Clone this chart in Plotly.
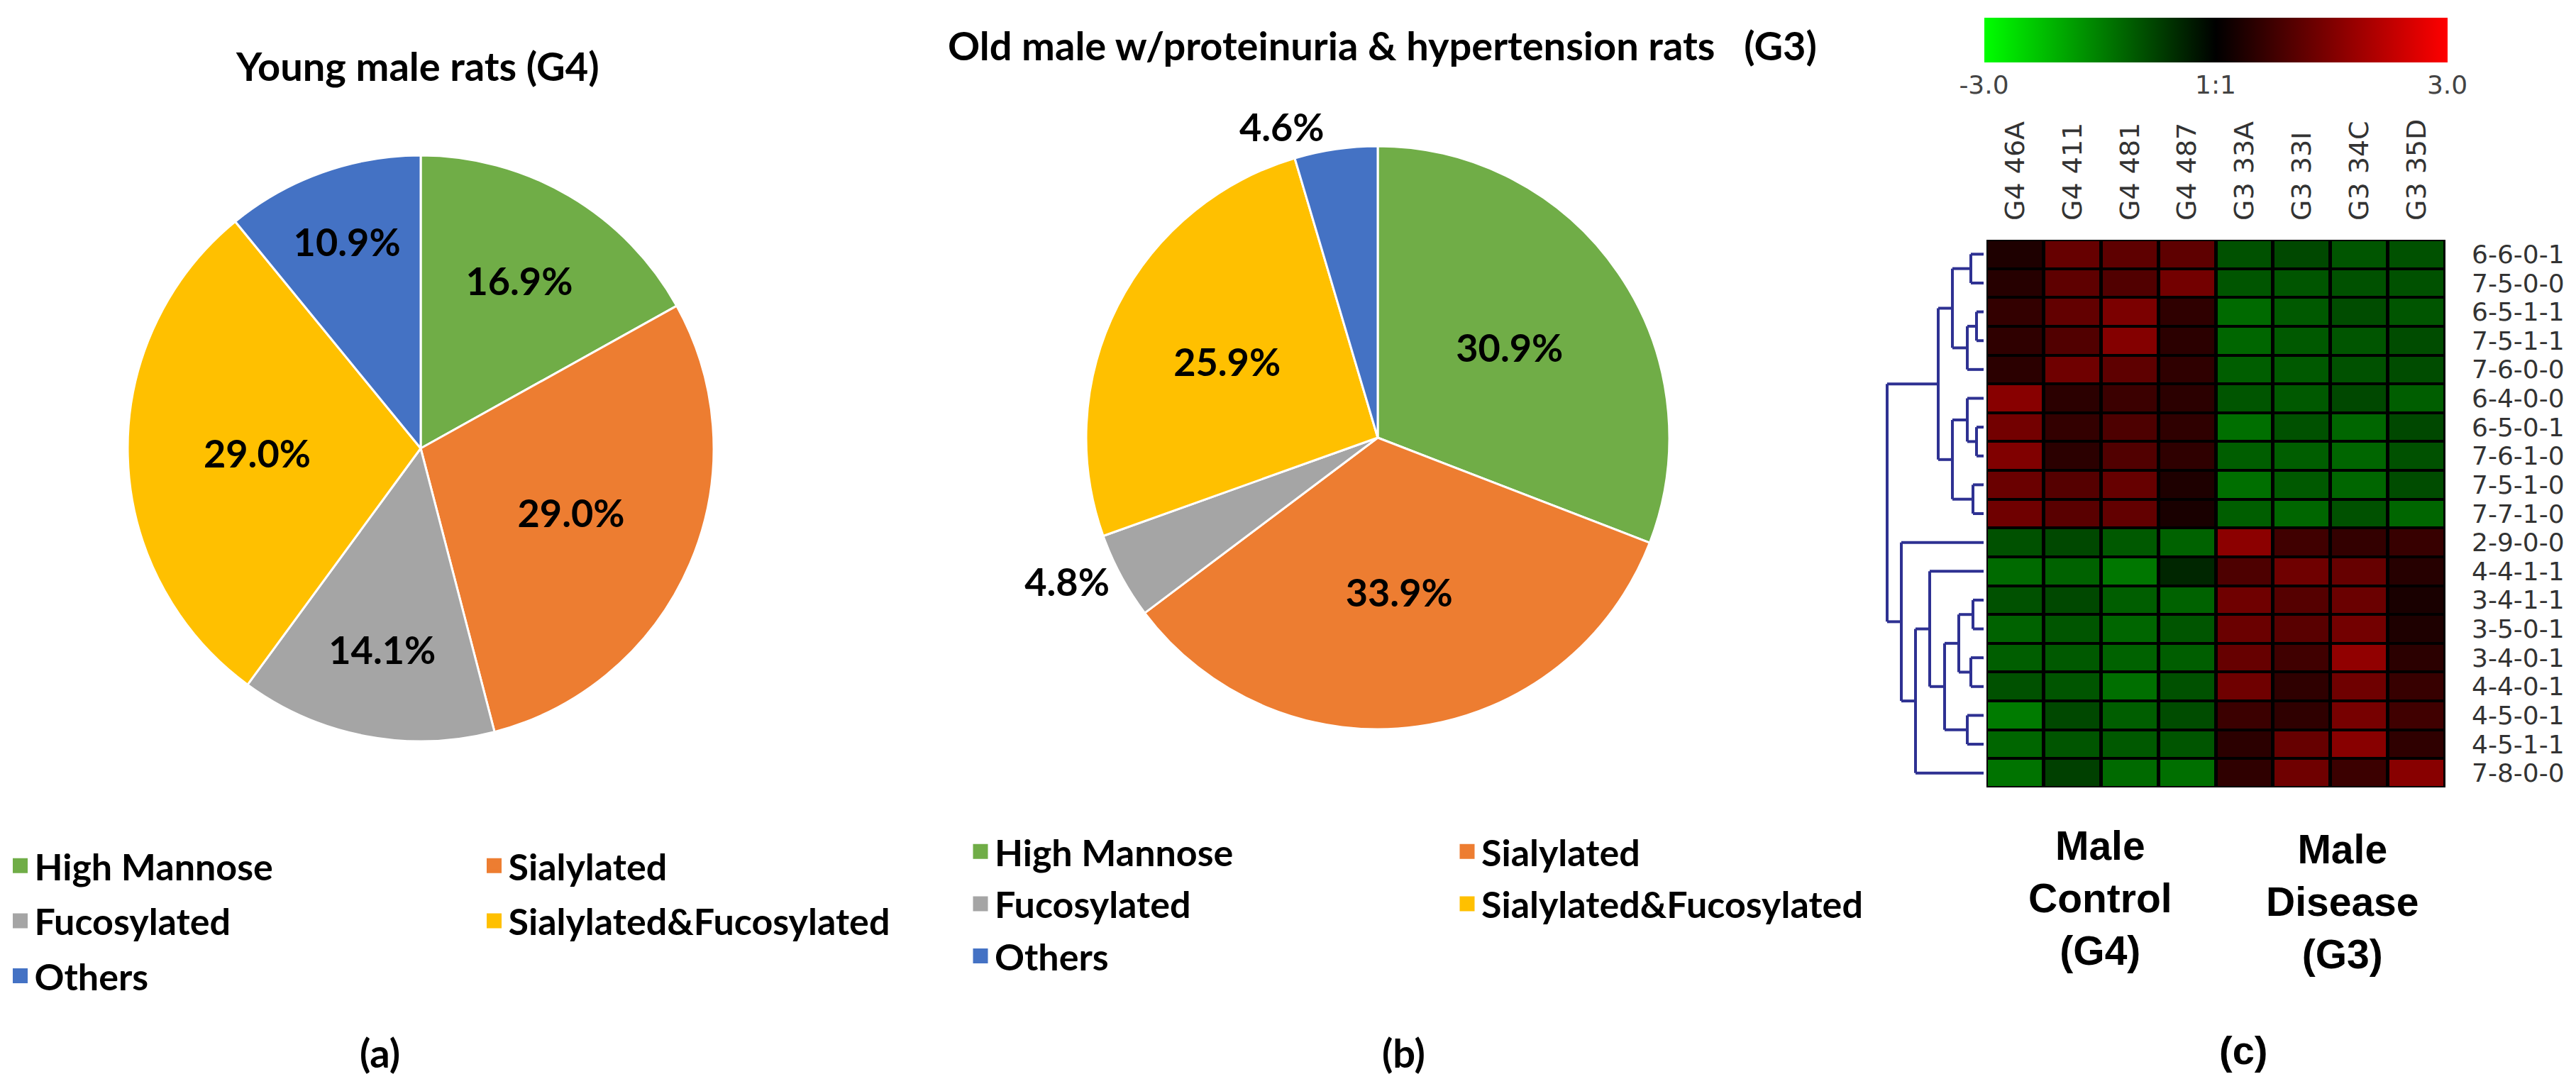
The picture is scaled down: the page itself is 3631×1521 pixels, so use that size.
import plotly.graph_objects as go

W, H = 3631, 1521

# ---------------- data ----------------
categories = ["High Mannose", "Sialylated", "Fucosylated", "Sialylated&Fucosylated", "Others"]
cat_colors = ["#70AD47", "#ED7D31", "#A5A5A5", "#FFC000", "#4472C4"]
pie_a_values = [16.9, 29.0, 14.1, 29.0, 10.9]
pie_b_values = [30.9, 33.9, 4.8, 25.9, 4.6]
pie_a_textpos = ["inside", "inside", "inside", "inside", "inside"]
pie_b_textpos = ["inside", "inside", "outside", "inside", "outside"]

samples = ["G4 46A", "G4 411", "G4 481", "G4 487", "G3 33A", "G3 33I", "G3 34C", "G3 35D"]
glycans = ["6-6-0-1", "7-5-0-0", "6-5-1-1", "7-5-1-1", "7-6-0-0", "6-4-0-0", "6-5-0-1",
           "7-6-1-0", "7-5-1-0", "7-7-1-0", "2-9-0-0", "4-4-1-1", "3-4-1-1", "3-5-0-1",
           "3-4-0-1", "4-4-0-1", "4-5-0-1", "4-5-1-1", "7-8-0-0"]
log_ratio = [
    [0.35, 1.20, 1.10, 1.10, -0.95, -0.85, -1.00, -0.95],
    [0.45, 1.10, 0.95, 1.35, -1.00, -1.00, -0.95, -0.95],
    [0.60, 1.15, 1.45, 0.55, -1.25, -1.05, -0.90, -1.00],
    [0.55, 0.95, 1.55, 0.50, -1.20, -1.05, -1.00, -0.90],
    [0.50, 1.30, 1.10, 0.55, -1.10, -1.05, -0.95, -0.90],
    [1.60, 0.50, 0.70, 0.50, -1.00, -1.05, -0.85, -1.10],
    [1.35, 0.60, 0.90, 0.55, -1.30, -0.95, -1.20, -0.85],
    [1.50, 0.50, 0.95, 0.55, -1.10, -1.10, -1.20, -0.95],
    [1.25, 1.00, 1.20, 0.35, -1.30, -1.05, -1.20, -0.90],
    [1.30, 1.05, 1.15, 0.30, -1.10, -1.20, -0.95, -1.20],
    [-0.95, -0.85, -1.05, -1.15, 1.65, 0.75, 0.60, 0.65],
    [-1.25, -1.15, -1.40, -0.45, 0.90, 1.30, 1.20, 0.45],
    [-0.95, -0.85, -1.10, -1.15, 1.30, 1.00, 1.25, 0.30],
    [-1.15, -1.00, -1.20, -1.00, 1.25, 1.05, 1.35, 0.35],
    [-1.10, -1.05, -1.15, -1.10, 1.20, 0.75, 1.70, 0.50],
    [-0.95, -1.00, -1.30, -0.95, 1.30, 0.55, 1.30, 0.65],
    [-1.45, -0.85, -1.10, -0.90, 0.70, 0.55, 1.40, 0.75],
    [-1.20, -1.00, -1.05, -1.00, 0.50, 1.20, 1.60, 0.55],
    [-1.35, -0.75, -1.25, -1.30, 0.55, 1.30, 0.70, 1.60],
]
colorbar_ticks = [-3, 0, 3]
colorbar_ticktext = ["-3.0", "1:1", "3.0"]

# hierarchical clustering of rows: (child_a, child_b, distance); leaves are 0..18,
# merged nodes are numbered 19, 20, ... in order
linkage = [
    (0, 1, 18), (2, 3, 10), (4, 20, 23), (19, 21, 44),
    (6, 7, 10), (5, 23, 23), (8, 9, 15), (24, 25, 44), (22, 26, 64),
    (12, 13, 15), (14, 15, 18), (28, 29, 35), (16, 17, 23), (30, 31, 55),
    (11, 32, 76), (33, 18, 96), (10, 34, 116), (27, 35, 136),
]

# ---------------- helpers ----------------
def px(xp):
    return xp / W

def py(yp):
    return 1 - yp / H

LATO = "Lato"
fig = go.Figure()

# ---------------- pies ----------------
def pie_trace(values, textpos, cx, cy, r):
    return go.Pie(
        values=values, labels=categories, sort=False, direction="clockwise", rotation=0,
        marker=dict(colors=cat_colors, line=dict(color="white", width=3)),
        texttemplate="%{value:.1f}%", textposition=textpos,
        insidetextorientation="horizontal",
        textfont=dict(family=LATO, size=54, color="black", weight="bold"),
        outsidetextfont=dict(family=LATO, size=54, color="black", weight="bold"),
        domain=dict(x=[px(cx - r), px(cx + r)], y=[py(cy + r), py(cy - r)]),
        showlegend=False, hoverinfo="label+value",
    )

fig.add_trace(pie_trace(pie_a_values, pie_a_textpos, 585, 624, 413))
fig.add_trace(pie_trace(pie_b_values, pie_b_textpos, 1934, 609, 411))

# ---------------- heatmap ----------------
fig.add_trace(go.Heatmap(
    z=log_ratio, x=list(range(len(samples))), y=list(range(len(glycans))),
    colorscale=[[0, "#00ff00"], [0.5, "#000000"], [1, "#ff0000"]],
    zmin=-3, zmax=3, xgap=5, ygap=4, xaxis="x", yaxis="y",
    colorbar=dict(
        orientation="h", x=px(3115), xanchor="center", y=py(17), yanchor="top",
        lenmode="pixels", len=653, thicknessmode="pixels", thickness=63,
        xpad=0, ypad=0, outlinewidth=0, ticks="",
        tickvals=colorbar_ticks, ticktext=colorbar_ticktext,
        tickfont=dict(family="DejaVu Sans", size=36, color="#444444"),
    ),
    hovertemplate="%{z}<extra></extra>",
))

# ---------------- dendrogram ----------------
node_y = {i: float(i) for i in range(len(glycans))}
node_h = {i: 0.0 for i in range(len(glycans))}
dx, dy = [], []
for k, (a, b, d) in enumerate(linkage):
    nid = len(glycans) + k
    for c in (a, b):
        dx += [node_h[c], d, None]
        dy += [node_y[c], node_y[c], None]
    dx += [d, d, None]
    dy += [node_y[a], node_y[b], None]
    node_y[nid] = (node_y[a] + node_y[b]) / 2
    node_h[nid] = d

fig.add_trace(go.Scatter(
    x=dx, y=dy, mode="lines", line=dict(color="#2e3192", width=4),
    xaxis="x2", yaxis="y2", showlegend=False, hoverinfo="skip",
))

# ---------------- legends (one per column) ----------------
legend_layout = {}
columns = [
    ("legend", [0, 2, 4], 0.5, 1172, 7),
    ("legend2", [1, 3], 668.5, 1172, 7),
    ("legend3", [0, 2, 4], 1354, 1152, 3),
    ("legend4", [1, 3], 2040, 1152, 3),
]
for lname, idxs, lx, ly, gap in columns:
    for i in idxs:
        fig.add_trace(go.Scatter(
            x=[None], y=[None], mode="markers", name=categories[i],
            marker=dict(symbol="square", size=16, color=cat_colors[i],
                        line=dict(color=cat_colors[i], width=5)),
            legend=lname, legendgroup=lname + categories[i], showlegend=True,
            xaxis="x2", yaxis="y2", hoverinfo="skip",
        ))
    legend_layout[lname] = dict(
        x=px(lx), y=py(ly), xanchor="left", yanchor="top", orientation="v",
        traceorder="grouped", tracegroupgap=gap, bgcolor="rgba(0,0,0,0)",
        borderwidth=0, font=dict(family=LATO, size=52, color="black", weight="bold"),
    )

# ---------------- annotations ----------------
def ann(text, x, y, size, family=LATO, color="black"):
    return dict(text=text, x=px(x), y=py(y), xref="paper", yref="paper",
                xanchor="center", yanchor="middle", showarrow=False,
                font=dict(family=family, size=size, color=color, weight="bold"))

annotations = [
    ann("Young male rats (G4)", 580, 85, 56),
    ann("Old male w/proteinuria &amp; hypertension rats\u00a0\u00a0\u00a0(G3)", 1940, 55, 56),
    ann("(a)", 527, 1475, 56),
    ann("(b)", 1970, 1475, 56),
    ann("(c)", 3154, 1472, 56, family="Liberation Sans"),
    ann("Male<br>Control<br>(G4)", 2952, 1258, 57, family="Liberation Sans"),
    ann("Male<br>Disease<br>(G3)", 3294, 1263, 57, family="Liberation Sans"),
]

hm_y_domain = [py(1102), py(330)]
fig.update_layout(
    width=W, height=H, autosize=False,
    margin=dict(l=0, r=0, t=0, b=0),
    paper_bgcolor="white", plot_bgcolor="white",
    xaxis=dict(domain=[px(2792), px(3439)], range=[-0.5, 7.5], side="top",
               tickvals=list(range(len(samples))), ticktext=samples, tickangle=-90,
               ticks="", showgrid=False, zeroline=False, ticklabelstandoff=26,
               tickfont=dict(family="DejaVu Sans", size=38, color="#333333"),
               anchor="y", fixedrange=True),
    yaxis=dict(domain=hm_y_domain, range=[18.5, -0.5], side="right",
               tickvals=list(range(len(glycans))), ticktext=glycans,
               ticks="", showgrid=False, zeroline=False, ticklabelstandoff=36,
               tickfont=dict(family="DejaVu Sans", size=36, color="#333333"),
               anchor="x", fixedrange=True),
    xaxis2=dict(domain=[px(2640), px(2792)], range=[148, -4], visible=False,
                anchor="y2", fixedrange=True),
    yaxis2=dict(domain=hm_y_domain, range=[18.5, -0.5], visible=False,
                anchor="x2", fixedrange=True),
    shapes=[dict(type="rect", xref="x domain", yref="y domain", x0=0, x1=1, y0=0, y1=1,
                 fillcolor="black", line=dict(width=0), layer="below")],
    annotations=annotations,
    **legend_layout,
)

fig.write_html("out.html")
